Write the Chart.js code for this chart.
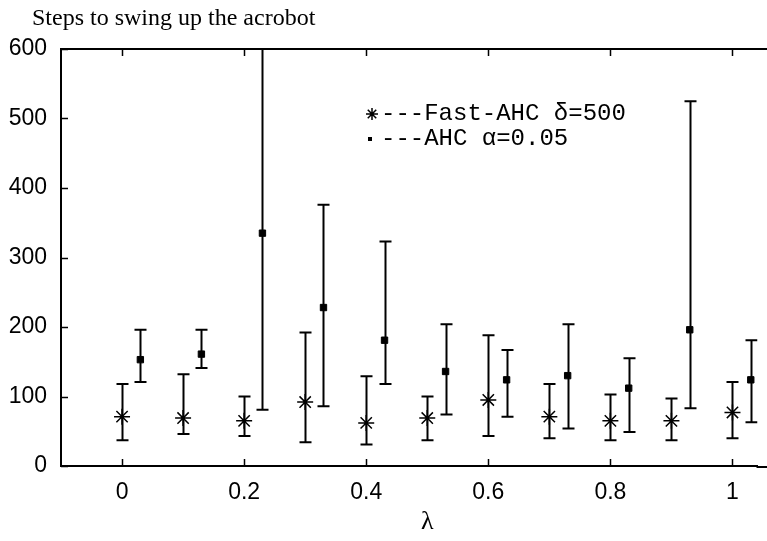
<!DOCTYPE html>
<html>
<head>
<meta charset="utf-8">
<script src="https://cdn.jsdelivr.net/npm/chart.js@4"></script>
<style>
  html, body { margin: 0; padding: 0; background: #fff; }
  #wrap { width: 767px; height: 541px; position: relative; }
</style>
</head>
<body>
<div id="wrap"><canvas id="swing-chart"></canvas></div>
<script>
// Fast-AHC (delta = 500), plotted at lambda
const lambdas = [0, 0.1, 0.2, 0.3, 0.4, 0.5, 0.6, 0.7, 0.8, 0.9, 1];
const fastMean = [71, 69, 65, 92, 62, 69, 95, 71, 65, 65, 77];
const fastLow = [37, 46, 43, 34, 31, 37, 43, 40, 37, 37, 40];
const fastHigh = [118, 132, 100, 192, 129, 100, 188, 118, 103, 97, 121];

// AHC (alpha = 0.05), shifted a little right of each lambda
const ahcLambdas = [0.03, 0.13, 0.23, 0.33, 0.43, 0.53, 0.63, 0.73, 0.83, 0.93, 1.03];
const ahcMean = [153, 161, 335, 228, 181, 136, 124, 130, 112, 196, 124];
const ahcLow = [121, 141, 81, 86, 118, 74, 71, 54, 49, 83, 63];
const ahcHigh = [196, 196, 640, 376, 323, 204, 167, 204, 155, 525, 181];

const xTicks = [0, 0.2, 0.4, 0.6, 0.8, 1];
const yTicks = [0, 100, 200, 300, 400, 500, 600];

const titleText = 'Steps to swing up the acrobot';
const xTitle = 'λ';
const legendFast = '---Fast-AHC δ=500';
const legendAhc = '---AHC α=0.05';

const tickFont = { family: "'Liberation Sans', Arial, sans-serif", size: 23 };

const errorBars = {
  id: 'errorBars',
  beforeDatasetsDraw(chart) {
    const { ctx, chartArea, scales: { x, y } } = chart;
    ctx.save();
    ctx.beginPath();
    ctx.rect(chartArea.left, chartArea.top, chartArea.right - chartArea.left, chartArea.bottom - chartArea.top);
    ctx.clip();
    ctx.strokeStyle = '#000';
    ctx.lineWidth = 2;
    const bar = (xv, lo, hi) => {
      const px = Math.round(x.getPixelForValue(xv)) + 0.5;
      const pl = y.getPixelForValue(lo);
      const ph = y.getPixelForValue(hi);
      ctx.beginPath();
      ctx.moveTo(px, pl); ctx.lineTo(px, ph);
      ctx.moveTo(px - 6, pl); ctx.lineTo(px + 6, pl);
      ctx.moveTo(px - 6, ph); ctx.lineTo(px + 6, ph);
      ctx.stroke();
    };
    lambdas.forEach((v, i) => bar(v, fastLow[i], fastHigh[i]));
    ahcLambdas.forEach((v, i) => bar(v, ahcLow[i], ahcHigh[i]));
    ctx.restore();
  }
};

const frame = {
  id: 'frame',
  afterDraw(chart) {
    const { ctx, chartArea, scales: { x, y } } = chart;
    ctx.save();
    ctx.strokeStyle = '#000';
    ctx.lineWidth = 2;
    // top and bottom border run on to the cropped right edge
    ctx.beginPath();
    ctx.moveTo(chartArea.left, chartArea.top);
    ctx.lineTo(chart.width, chartArea.top);
    ctx.moveTo(chartArea.right - 1, chartArea.bottom + 1);
    ctx.lineTo(chart.width, chartArea.bottom + 1);
    ctx.stroke();
    // inward tick marks
    ctx.lineWidth = 1.5;
    ctx.beginPath();
    xTicks.forEach(v => {
      const px = Math.round(x.getPixelForValue(v)) + 0.5;
      ctx.moveTo(px, chartArea.bottom); ctx.lineTo(px, chartArea.bottom - 7);
      ctx.moveTo(px, chartArea.top); ctx.lineTo(px, chartArea.top + 7);
    });
    yTicks.forEach(v => {
      const py = Math.round(y.getPixelForValue(v)) + 0.5;
      ctx.moveTo(chartArea.left, py); ctx.lineTo(chartArea.left + 7, py);
    });
    ctx.stroke();

    // title
    ctx.fillStyle = '#000';
    ctx.font = "24px 'Liberation Serif', serif";
    ctx.textBaseline = 'alphabetic';
    ctx.textAlign = 'left';
    ctx.fillText(titleText, 32, 25);

    // axis title centred on lambda = 0.5
    ctx.textAlign = 'center';
    ctx.textBaseline = 'middle';
    ctx.font = "26px 'Liberation Serif', serif";
    ctx.fillText(xTitle, x.getPixelForValue(0.5), 522);

    // legend
    ctx.textAlign = 'left';
    ctx.font = "24px 'Liberation Mono', monospace";
    Chart.helpers.drawPoint(ctx, { pointStyle: 'star', radius: 6, rotation: 0, borderWidth: 1.5 }, 372, 114);
    ctx.fillText(legendFast, 381, 114);
    ctx.fillRect(368, 137, 4, 4);
    ctx.fillText(legendAhc, 381, 139);
    ctx.restore();
  }
};

new Chart(document.getElementById('swing-chart').getContext('2d'), {
  type: 'scatter',
  data: {
    datasets: [
      {
        label: 'Fast-AHC',
        data: lambdas.map((v, i) => ({ x: v, y: fastMean[i] })),
        pointStyle: 'star',
        pointRadius: 8,
        borderColor: '#000',
        backgroundColor: '#000',
        borderWidth: 1.5
      },
      {
        label: 'AHC',
        data: ahcLambdas.map((v, i) => ({ x: v, y: ahcMean[i] })),
        pointStyle: 'rect',
        pointRadius: 4.5,
        borderColor: '#000',
        backgroundColor: '#000',
        borderWidth: 1
      }
    ]
  },
  options: {
    responsive: true,
    maintainAspectRatio: false,
    animation: false,
    layout: { padding: { top: 49, right: 0, left: 0, bottom: 0 } },
    plugins: {
      legend: { display: false },
      tooltip: { enabled: false },
      title: { display: false }
    },
    scales: {
      x: {
        type: 'linear',
        min: -0.1,
        max: 1.041,
        afterBuildTicks: scale => { scale.ticks = xTicks.map(v => ({ value: v })); },
        afterFit: scale => { scale.height = 75; },
        grid: { display: false, drawTicks: false, tickLength: 0 },
        border: { display: true, color: '#000', width: 2 },
        ticks: { color: '#000', font: tickFont, padding: 13, maxRotation: 0, callback: v => String(v) }
      },
      y: {
        min: 0,
        max: 600,
        afterBuildTicks: scale => { scale.ticks = yTicks.map(v => ({ value: v })); },
        afterFit: scale => { scale.width = 61; },
        grid: { display: false, drawTicks: false, tickLength: 0 },
        border: { display: true, color: '#000', width: 2 },
        ticks: { color: '#000', font: tickFont, padding: 14 }
      }
    }
  },
  plugins: [errorBars, frame]
});
</script>
</body>
</html>
